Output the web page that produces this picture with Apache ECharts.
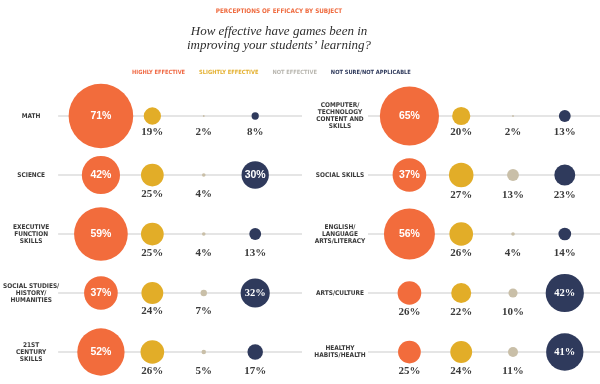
<!DOCTYPE html>
<html><head><meta charset="utf-8">
<script src="https://cdn.jsdelivr.net/npm/echarts@6/dist/echarts.min.js"></script>
<style>html,body{margin:0;padding:0;background:#fff}#c{width:600px;height:384px}</style>
</head><body><div id="c"></div>
<script>
const categories = ['HIGHLY EFFECTIVE', 'SLIGHTLY EFFECTIVE', 'NOT EFFECTIVE', 'NOT SURE/NOT APPLICABLE'];
const rowsLeft = ['MATH', 'SCIENCE', 'EXECUTIVE\nFUNCTION\nSKILLS', 'SOCIAL STUDIES/\nHISTORY/\nHUMANITIES', '21ST\nCENTURY\nSKILLS'];
const rowsRight = ['COMPUTER/\nTECHNOLOGY\nCONTENT AND\nSKILLS', 'SOCIAL SKILLS', 'ENGLISH/\nLANGUAGE\nARTS/LITERACY', 'ARTS/CULTURE', 'HEALTHY\nHABITS/HEALTH'];
const highlyLeft = [71, 42, 59, 37, 52];
const slightlyLeft = [19, 25, 25, 24, 26];
const notLeft = [2, 4, 4, 7, 5];
const notSureLeft = [8, 30, 13, 32, 17];
const highlyRight = [65, 37, 56, 26, 25];
const slightlyRight = [20, 27, 26, 22, 24];
const notRight = [2, 13, 4, 10, 11];
const notSureRight = [13, 23, 14, 42, 41];

const colors = ['#f26c3c', '#e2ad28', '#c9bfa8', '#2f3a5c'];
const legendColors = ['#f06a45', '#e4b02f', '#b9b7b0', '#2f3a5c'];
const K = 0.91;
const NARROW = '"Liberation Sans Narrow","DejaVu Sans Condensed","Liberation Sans",sans-serif';
const SERIF = '"Liberation Serif","DejaVu Serif",serif';

function buildSeries(g, valuesByCat, rowNames) {
  const maxR = rowNames.map((_, r) => Math.max.apply(null, valuesByCat.map(v => v[r] < 28 ? v[r] * K / 2 : 0)));
  const out = valuesByCat.map((vals, c) => ({
    type: 'scatter', name: categories[c], xAxisIndex: g, yAxisIndex: g, z: 3,
    clip: false, silent: true,
    itemStyle: { color: colors[c], opacity: 1 },
    symbolSize: d => d[2] * K,
    label: { show: true, formatter: p => p.value[2] + '%' },
    data: vals.map((v, r) => ({
      value: [c, r, v],
      label: v >= 28
        ? { position: 'inside', color: '#fff', fontSize: 10.5, fontWeight: 'bold', fontFamily: c === 3 && v > 31 ? SERIF : '"Liberation Sans",sans-serif' }
        : { position: 'bottom', distance: maxR[r] - v * K / 2 + 1.5, color: '#3a3a3a', fontSize: 11, fontWeight: 'bold', fontFamily: SERIF, lineHeight: 12 }
    }))
  }));
  out.unshift({
    type: 'scatter', name: 'lines' + g, xAxisIndex: g, yAxisIndex: g, z: 1, data: [], silent: true,
    markLine: {
      silent: true, symbol: 'none', label: { show: false }, z: 1,
      lineStyle: { color: '#dcdcdc', width: 1.5, type: 'solid' },
      data: rowNames.map((_, r) => ({ yAxis: r }))
    }
  });
  return out;
}

const chart = echarts.init(document.getElementById('c'), null, { renderer: 'canvas' });
const yAxisBase = {
  type: 'category', inverse: true, boundaryGap: true,
  axisLine: { show: false }, axisTick: { show: false }, splitLine: { show: false },
  axisLabel: { align: 'center', fontFamily: NARROW, fontWeight: 'bold', fontSize: 6.5, lineHeight: 7, color: '#3a3a3a' }
};
chart.setOption({
  animation: false,
  backgroundColor: '#fff',
  title: [
    { text: 'PERCEPTIONS OF EFFICACY BY SUBJECT', left: 274, top: 3, textAlign: 'center',
      textStyle: { color: '#ef6a3e', fontFamily: NARROW, fontWeight: 'bold', fontSize: 6.3 } },
    { text: 'How effective have games been in\nimproving your students\u2019 learning?', left: 274, top: 19, textAlign: 'center',
      textStyle: { color: '#2e2e2e', fontFamily: SERIF, fontStyle: 'italic', fontWeight: 'normal', fontSize: 13, lineHeight: 14.5 } }
  ],
  legend: {
    top: 65, left: 122, icon: 'none', itemWidth: 0, itemHeight: 0, itemGap: 9, selectedMode: false,
    textStyle: { fontFamily: NARROW, fontWeight: 'bold', fontSize: 5.7 },
    data: categories.map((n, i) => ({ name: n, textStyle: { color: legendColors[i] } }))
  },
  grid: [
    { left: 57, width: 245, top: 86.5, height: 295 },
    { left: 368, width: 232, top: 86.5, height: 295 }
  ],
  xAxis: [
    { type: 'value', gridIndex: 0, min: -0.832, max: 3.91, show: false },
    { type: 'value', gridIndex: 1, min: -0.80, max: 3.68, show: false }
  ],
  yAxis: [
    Object.assign({}, yAxisBase, { gridIndex: 0, data: rowsLeft, axisLabel: Object.assign({}, yAxisBase.axisLabel, { margin: 27 }) }),
    Object.assign({}, yAxisBase, { gridIndex: 1, data: rowsRight, axisLabel: Object.assign({}, yAxisBase.axisLabel, { margin: 28 }) })
  ],
  series: buildSeries(0, [highlyLeft, slightlyLeft, notLeft, notSureLeft], rowsLeft)
    .concat(buildSeries(1, [highlyRight, slightlyRight, notRight, notSureRight], rowsRight))
});
</script></body></html>
